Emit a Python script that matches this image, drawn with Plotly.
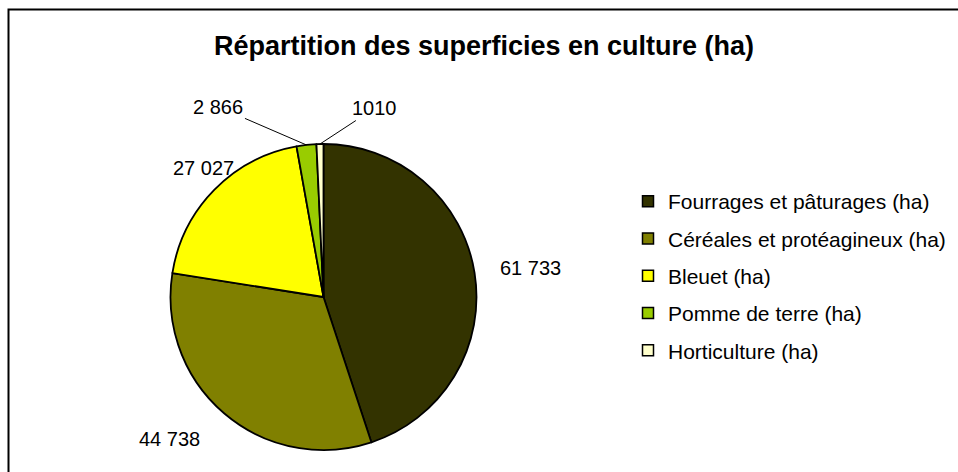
import math
import plotly.graph_objects as go

# ---- data ----
categories = ["Fourrages et pâturages (ha)", "Céréales et protéagineux (ha)",
              "Bleuet (ha)", "Pomme de terre (ha)", "Horticulture (ha)"]
values = [61733, 44738, 27027, 2866, 1010]
value_labels = ["61 733", "44 738", "27 027", "2 866", "1010"]
colors = ["#333300", "#808000", "#FFFF00", "#99CC00", "#FFFFCC"]
title_text = "Répartition des superficies en culture (ha)"

# ---- layout constants (pixels) ----
W, H = 958, 472
CX, CY, R = 323.5, 297.0, 153.0
# label offsets (pixels) from slice edge midpoint, and whether a leader line is drawn
label_offsets = [(56, -5, False), (-55, 25, False), (-11, -22, False), (-88, -38, True), (55, -36, True)]
FONT = "Liberation Sans, Arial, sans-serif"

fig = go.Figure()
fig.add_trace(go.Pie(
    labels=categories, values=values, sort=False, direction="clockwise", rotation=0,
    marker=dict(colors=colors, line=dict(color="black", width=1.8)),
    textinfo="none", showlegend=False,
    domain=dict(x=[(CX - R) / W, (CX + R) / W], y=[1 - (CY + R) / H, 1 - (CY - R) / H]),
))

# legend entries (one group each so spacing can be controlled)
for cat, col in zip(categories, colors):
    fig.add_trace(go.Scatter(
        x=[None], y=[None], mode="markers", name=cat, legendgroup=cat,
        marker=dict(symbol="square", size=11, color=col, line=dict(color="black", width=1.5)),
    ))

# data labels computed from slice angles
total = sum(values)
annotations = []
cum = 0.0
for v, lab, (ax, ay, leader) in zip(values, value_labels, label_offsets):
    mid = (cum + v / 2) / total * 2 * math.pi
    cum += v
    px = CX + R * math.sin(mid)
    py = CY - R * math.cos(mid)
    annotations.append(dict(
        x=px / W, y=1 - py / H, xref="paper", yref="paper", text=lab,
        showarrow=True, ax=ax, ay=ay, arrowhead=0, arrowwidth=1, standoff=0,
        arrowcolor="black" if leader else "rgba(0,0,0,0)",
        font=dict(family=FONT, size=20, color="black"),
    ))

fig.update_layout(
    width=W, height=H,
    margin=dict(l=0, r=0, t=0, b=0),
    paper_bgcolor="white", plot_bgcolor="white",
    title=dict(text="<b>" + title_text + "</b>", x=484 / W, xanchor="center",
               y=1 - 46 / H, yanchor="middle",
               font=dict(family=FONT, size=27, color="black")),
    xaxis=dict(visible=False), yaxis=dict(visible=False),
    legend=dict(x=628 / W, xanchor="left", y=1 - 181 / H, yanchor="top",
                font=dict(family=FONT, size=21, color="black"),
                tracegroupgap=7, bgcolor="rgba(0,0,0,0)"),
    annotations=annotations,
    shapes=[dict(type="rect", xref="paper", yref="paper",
                 x0=8.5 / W, y0=-0.05, x1=1.05, y1=1 - 9.5 / H,
                 line=dict(color="black", width=2))],
)

fig.write_html("out.html", config={"displayModeBar": False},
               post_script="document.body.style.margin='0';document.body.style.overflow='hidden';")
